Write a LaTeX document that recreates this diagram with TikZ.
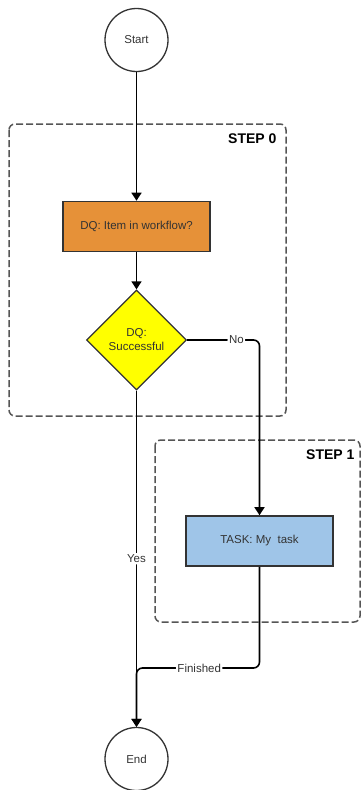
\documentclass[tikz,border=0pt]{standalone}
\usepackage{fontspec}
\setmainfont{Liberation Sans}
\usetikzlibrary{arrows.meta,shapes.geometric}
\definecolor{orangefill}{HTML}{E69138}
\definecolor{bluefill}{HTML}{9FC5E8}
\definecolor{yellowfill}{HTML}{FFFF00}
\definecolor{linegray}{HTML}{333333}
\definecolor{dashgray}{HTML}{555555}
\begin{document}
\begin{tikzpicture}[x=1pt,y=-1pt,
  font=\fontsize{11.5}{14}\selectfont,
  term/.style={circle,draw=linegray,line width=1.3pt,minimum size=63pt,inner sep=0pt,text=linegray},
  procbox/.style={rectangle,draw=linegray,line width=1.6pt,minimum width=147pt,minimum height=50pt,inner sep=0pt,text=linegray},
  decision/.style={diamond,draw=linegray,fill=yellowfill,line width=1.3pt,minimum width=100pt,minimum height=100pt,inner sep=0pt,align=center,aspect=1,text=linegray},
  group/.style={draw=dashgray,dash pattern=on 7pt off 3pt,line width=1.5pt,rounded corners=6pt},
  grouplabel/.style={font=\fontsize{14}{16}\selectfont\bfseries,anchor=east,text=black},
  flow/.style={draw=black,line width=1.6pt,-{Triangle[width=10pt,length=8pt]},rounded corners=6pt},
  elabel/.style={fill=white,inner sep=1.5pt,text=linegray}
]
\useasboundingbox (0,0) rectangle (361,790);

% groups
\draw[group] (9,124) rectangle (286,416);
\node[grouplabel] (g0) at (280,139) {STEP 0};
\draw[group] (155,440) rectangle (360,622);
\node[grouplabel] (g1) at (358,455) {STEP 1};

% nodes
\node[term] (start) at (136.5,40) {Start};
\node[procbox,fill=orangefill] (q1) at (136.5,226.5) {DQ: Item in workflow?};
\node[decision] (d1) at (136.5,340) {DQ:\\Successful};
\node[procbox,fill=bluefill] (task) at (259.5,541) {TASK: My\ \ task};
\node[term] (end) at (136.5,759) {End};
\coordinate (fj) at (136.5,668);

% edges
\draw[flow] (start) -- (q1);
\draw[flow] (q1) -- (d1);
\draw[flow] (d1.east) -| node[elabel,pos=0.34]{No} (task.north);
\draw[flow] (d1.south) -- node[elabel,pos=0.5]{Yes} (end.north);
\draw[flow] (task.south) |- node[elabel,pos=0.745]{Finished} (fj) -- (end.north);
\end{tikzpicture}
\end{document}
